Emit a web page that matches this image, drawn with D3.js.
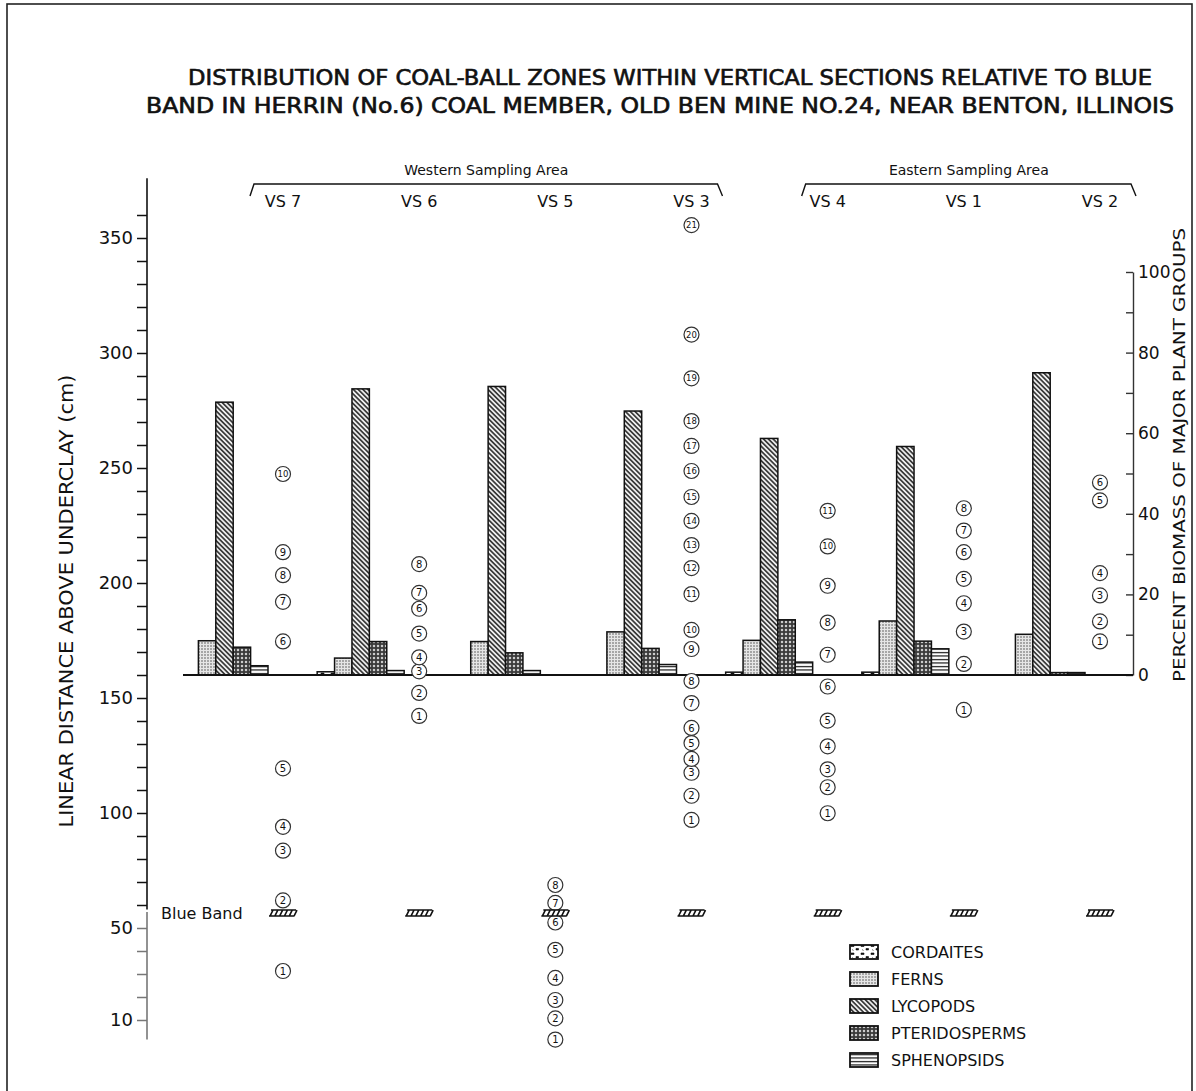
<!DOCTYPE html>
<html>
<head>
<meta charset="utf-8">
<script src="https://cdn.jsdelivr.net/npm/d3@7"></script>
<style>
  body { margin: 0; background: #fff; }
  svg text { font-family: "DejaVu Sans", "Open Sans", sans-serif; fill: #111; }
</style>
</head>
<body>
<div id="chart"></div>
<script>
// sections, in drawing order
const sections = ["VS 7", "VS 6", "VS 5", "VS 3", "VS 4", "VS 1", "VS 2"];
const westernSections = ["VS 7", "VS 6", "VS 5", "VS 3"];
const easternSections = ["VS 4", "VS 1", "VS 2"];
const plantGroups = ["CORDAITES", "FERNS", "LYCOPODS", "PTERIDOSPERMS", "SPHENOPSIDS"];

// percent biomass per section (same order as sections)
const cordaites     = [0,    0.8,  0,    0,    0.7,  0.7,  0];
const ferns         = [8.5,  4.2,  8.3,  10.7, 8.6,  13.4, 10.1];
const lycopods      = [67.7, 71.0, 71.6, 65.5, 58.7, 56.7, 75.0];
const pteridosperms = [6.9,  8.3,  5.5,  6.6,  13.7, 8.4,  0.6];
const sphenopsids   = [2.3,  1.1,  1.1,  2.6,  3.2,  6.5,  0.6];

// coal-ball zone heights above underclay (cm), zone 1 first
const zonesVS7 = [31.3, 62, 83.6, 94, 119.4, 174.6, 191.8, 203.4, 213.4, 247.4];
const zonesVS6 = [142.2, 152.2, 161.6, 167.7, 178, 188.8, 195.7, 208.2];
const zonesVS5 = [1.5, 10.7, 18.7, 28.3, 40.5, 52.4, 60.9, 68.7];
const zonesVS3 = [97, 107.5, 117.5, 123.5, 130.4, 137, 147.8, 157.4, 171.3, 179.6, 195.2,
                  206.5, 216.5, 227, 237.4, 248.7, 259.6, 270.4, 289, 308, 355.6];
const zonesVS4 = [99.9, 111.2, 119, 129, 140.2, 155, 168.8, 182.8, 198.8, 215.9, 231.4];
const zonesVS1 = [144.8, 164.8, 178.9, 191.2, 201.8, 213.4, 222.8, 232.5];
const zonesVS2 = [174.6, 183.3, 194.6, 204.3, 235.9, 243.7];

const blueBand = 56.5;
const leftTickLabels = [10, 50, 100, 150, 200, 250, 300, 350];
const rightTickLabels = [0, 20, 40, 60, 80, 100];

const titleLines = [
  "DISTRIBUTION OF COAL-BALL ZONES WITHIN VERTICAL SECTIONS RELATIVE TO BLUE",
  "BAND IN HERRIN (No.6) COAL MEMBER, OLD BEN MINE NO.24, NEAR BENTON, ILLINOIS"
];

const biomass = [cordaites, ferns, lycopods, pteridosperms, sphenopsids];
const zoneLists = [zonesVS7, zonesVS6, zonesVS5, zonesVS3, zonesVS4, zonesVS1, zonesVS2];

const svg = d3.select("#chart").append("svg")
    .attr("width", 1196)
    .attr("height", 1091);

svg.append("rect").attr("width", 1196).attr("height", 1091).attr("fill", "#fff");

// frame
svg.append("rect")
    .attr("x", 7).attr("y", 4)
    .attr("width", 1185).attr("height", 1110)
    .attr("fill", "none").attr("stroke", "#222").attr("stroke-width", 1.6);

// title
svg.selectAll("text.title")
    .data(titleLines)
    .join("text")
    .attr("class", "title")
    .attr("x", (d, i) => i === 0 ? 188 : 146)
    .attr("y", (d, i) => 85 + i * 28)
    .attr("textLength", (d, i) => i === 0 ? 964 : 1028)
    .attr("lengthAdjust", "spacingAndGlyphs")
    .style("font-family", "'DejaVu Sans Condensed', 'Liberation Sans Narrow', sans-serif")
    .style("font-size", "21px")
    .attr("stroke", "#111")
    .attr("stroke-width", 0.6)
    .text(d => d);

// scales
const yCm = d3.scaleLinear().domain([0, 400]).range([1043, 123]);
const yPct = d3.scaleLinear().domain([0, 100]).range([675, 272]);
const xCol = d3.scalePoint().domain(sections).range([283, 1100]);
const xBar = d3.scaleBand().domain(plantGroups).range([-102, -15]);

// patterns
const defs = svg.append("defs");

const pLyco = defs.append("pattern").attr("id", "pat-lyco")
    .attr("patternUnits", "userSpaceOnUse").attr("width", 3.4).attr("height", 3.4)
    .attr("patternTransform", "rotate(-45)");
pLyco.append("rect").attr("width", 3.4).attr("height", 3.4).attr("fill", "#eee");
pLyco.append("line").attr("x1", 1.7).attr("y1", 0).attr("x2", 1.7).attr("y2", 3.4)
    .attr("stroke", "#222").attr("stroke-width", 1.5);

const pFern = defs.append("pattern").attr("id", "pat-fern")
    .attr("patternUnits", "userSpaceOnUse").attr("width", 3).attr("height", 3);
pFern.append("rect").attr("width", 3).attr("height", 3).attr("fill", "#e6e6e6");
pFern.append("circle").attr("cx", 1).attr("cy", 1).attr("r", 0.8).attr("fill", "#555");

const pPter = defs.append("pattern").attr("id", "pat-pter")
    .attr("patternUnits", "userSpaceOnUse").attr("width", 4).attr("height", 4);
pPter.append("rect").attr("width", 4).attr("height", 4).attr("fill", "#3a3a3a");
pPter.append("circle").attr("cx", 2).attr("cy", 2).attr("r", 1.25).attr("fill", "#ccc");

const pSphe = defs.append("pattern").attr("id", "pat-sphe")
    .attr("patternUnits", "userSpaceOnUse").attr("width", 4).attr("height", 3.5);
pSphe.append("rect").attr("width", 4).attr("height", 3.5).attr("fill", "#fff");
pSphe.append("line").attr("x1", 0).attr("y1", 1.5).attr("x2", 4).attr("y2", 1.5)
    .attr("stroke", "#111").attr("stroke-width", 1.2);

const pCord = defs.append("pattern").attr("id", "pat-cord")
    .attr("patternUnits", "userSpaceOnUse").attr("width", 10).attr("height", 8);
pCord.append("rect").attr("width", 10).attr("height", 8).attr("fill", "#fff");
pCord.append("path").attr("d", "M1,1h3v1.5h-3z M6,4.5h2.5v1.5h-2.5z M2,5.5l1.5,1")
    .attr("fill", "#111").attr("stroke", "#111").attr("stroke-width", 0.6);

const fills = {
  CORDAITES: "url(#pat-cord)",
  FERNS: "url(#pat-fern)",
  LYCOPODS: "url(#pat-lyco)",
  PTERIDOSPERMS: "url(#pat-pter)",
  SPHENOPSIDS: "url(#pat-sphe)"
};

// left axis
const axisTop = 376, axisBottom = 1.5;
svg.append("line")
    .attr("x1", 147).attr("x2", 147)
    .attr("y1", yCm(axisTop)).attr("y2", yCm(58))
    .attr("stroke", "#111").attr("stroke-width", 1.6);
svg.append("line")
    .attr("x1", 147).attr("x2", 147)
    .attr("y1", yCm(57)).attr("y2", yCm(axisBottom))
    .attr("stroke", "#777").attr("stroke-width", 1.6);

const leftAxis = svg.append("g")
    .attr("transform", "translate(147,0)")
    .call(d3.axisLeft(yCm)
        .tickValues(d3.range(10, 361, 10))
        .tickSize(10)
        .tickPadding(4)
        .tickFormat(d => leftTickLabels.includes(d) ? d : ""));
leftAxis.select(".domain").remove();
leftAxis.selectAll(".tick line")
    .attr("stroke", d => d < 57 ? "#777" : "#111")
    .attr("stroke-width", 1.5);
leftAxis.selectAll(".tick text")
    .style("font-size", "18px")
    .style("font-family", "'DejaVu Sans', sans-serif")
    .attr("fill", "#111");

svg.append("text")
    .attr("transform", "translate(73,601) rotate(-90)")
    .attr("text-anchor", "middle")
    .attr("textLength", 453)
    .attr("lengthAdjust", "spacingAndGlyphs")
    .style("font-size", "19px")
    .text("LINEAR DISTANCE ABOVE UNDERCLAY (cm)");

// right axis
const rightAxis = svg.append("g")
    .attr("transform", "translate(1133,0)")
    .call(d3.axisRight(yPct)
        .tickValues(d3.range(0, 101, 10))
        .tickSize(-7)
        .tickSizeOuter(0)
        .tickPadding(5)
        .tickFormat(d => rightTickLabels.includes(d) ? d : ""));
rightAxis.select(".domain").attr("stroke", "#333").attr("stroke-width", 1.4);
rightAxis.selectAll(".tick line").attr("stroke", "#333").attr("stroke-width", 1.4);
rightAxis.selectAll(".tick text")
    .style("font-size", "17px")
    .attr("fill", "#444");

svg.append("text")
    .attr("transform", "translate(1185,455) rotate(-90)")
    .attr("text-anchor", "middle")
    .attr("textLength", 454)
    .attr("lengthAdjust", "spacingAndGlyphs")
    .style("font-size", "15px")
    .attr("fill", "#444")
    .text("PERCENT BIOMASS OF MAJOR PLANT GROUPS");

// sampling area brackets
const areas = [
  { name: "Western Sampling Area", x0: xCol(westernSections[0]) - 33, x1: xCol(westernSections[3]) + 31 },
  { name: "Eastern Sampling Area", x0: xCol(easternSections[0]) - 26, x1: xCol(easternSections[2]) + 36 }
];
svg.selectAll("path.bracket")
    .data(areas)
    .join("path")
    .attr("class", "bracket")
    .attr("d", d => `M${d.x0},196 L${d.x0 + 4},184 L${d.x1 - 5},184 L${d.x1},196`)
    .attr("fill", "none").attr("stroke", "#111").attr("stroke-width", 1.4);
svg.selectAll("text.area")
    .data(areas)
    .join("text")
    .attr("class", "area")
    .attr("x", d => (d.x0 + d.x1) / 2)
    .attr("y", 175)
    .attr("text-anchor", "middle")
    .style("font-size", "14px")
    .text(d => d.name);

svg.selectAll("text.vs")
    .data(sections)
    .join("text")
    .attr("class", "vs")
    .attr("x", d => xCol(d))
    .attr("y", 207)
    .attr("text-anchor", "middle")
    .style("font-size", "16px")
    .text(d => d);

// bars
const barData = [];
sections.forEach((s, i) => {
  plantGroups.forEach((g, j) => {
    barData.push({ section: s, group: g, value: biomass[j][i] });
  });
});

svg.append("g").selectAll("rect")
    .data(barData.filter(d => d.value > 0))
    .join("rect")
    .attr("x", d => xCol(d.section) + xBar(d.group))
    .attr("y", d => yPct(d.value))
    .attr("width", xBar.bandwidth())
    .attr("height", d => yPct(0) - yPct(d.value))
    .attr("fill", d => fills[d.group])
    .attr("stroke", "#111")
    .attr("stroke-width", 1.5);

// baseline
svg.append("line")
    .attr("x1", xCol(sections[0]) - 100).attr("x2", 1133)
    .attr("y1", yPct(0)).attr("y2", yPct(0))
    .attr("stroke", "#111").attr("stroke-width", 2);

// coal-ball zones
const zoneData = [];
sections.forEach((s, i) => {
  zoneLists[i].forEach((h, k) => zoneData.push({ section: s, zone: k + 1, height: h }));
});

const zoneG = svg.append("g").selectAll("g")
    .data(zoneData)
    .join("g")
    .attr("transform", d => `translate(${xCol(d.section)},${yCm(d.height)})`);
zoneG.append("circle")
    .attr("r", 7.5)
    .attr("fill", "#fff")
    .attr("stroke", "#333")
    .attr("stroke-width", 1.2);
zoneG.append("text")
    .attr("text-anchor", "middle")
    .attr("dy", "0.36em")
    .style("font-size", d => d.zone > 9 ? "8.5px" : "10px")
    .attr("fill", "#222")
    .text(d => d.zone);

// blue band markers
const band = svg.append("g").selectAll("g")
    .data(sections)
    .join("g")
    .attr("transform", d => `translate(${xCol(d)},${yCm(blueBand)})`);
band.append("rect")
    .attr("x", -13).attr("y", -3).attr("width", 26).attr("height", 6)
    .attr("fill", "#fff");
band.append("path")
    .attr("d", "M-12,-3H13 M-14,3H11" + d3.range(6).map(i => `M${-13 + i * 4.8},3L${-10 + i * 4.8},-3`).join(""))
    .attr("fill", "none").attr("stroke", "#111").attr("stroke-width", 1.6);

svg.append("text")
    .attr("x", 161)
    .attr("y", yCm(blueBand) + 6)
    .style("font-size", "16px")
    .text("Blue Band");

// legend
const legend = svg.append("g").selectAll("g")
    .data(plantGroups)
    .join("g")
    .attr("transform", (d, i) => `translate(850,${952 + i * 27})`);
legend.append("rect")
    .attr("x", 0).attr("y", -7)
    .attr("width", 28).attr("height", 14)
    .attr("fill", d => fills[d])
    .attr("stroke", "#111").attr("stroke-width", 1.8);
legend.append("text")
    .attr("x", 41).attr("y", 6)
    .style("font-size", "16px")
    .text(d => d);
</script>
</body>
</html>
